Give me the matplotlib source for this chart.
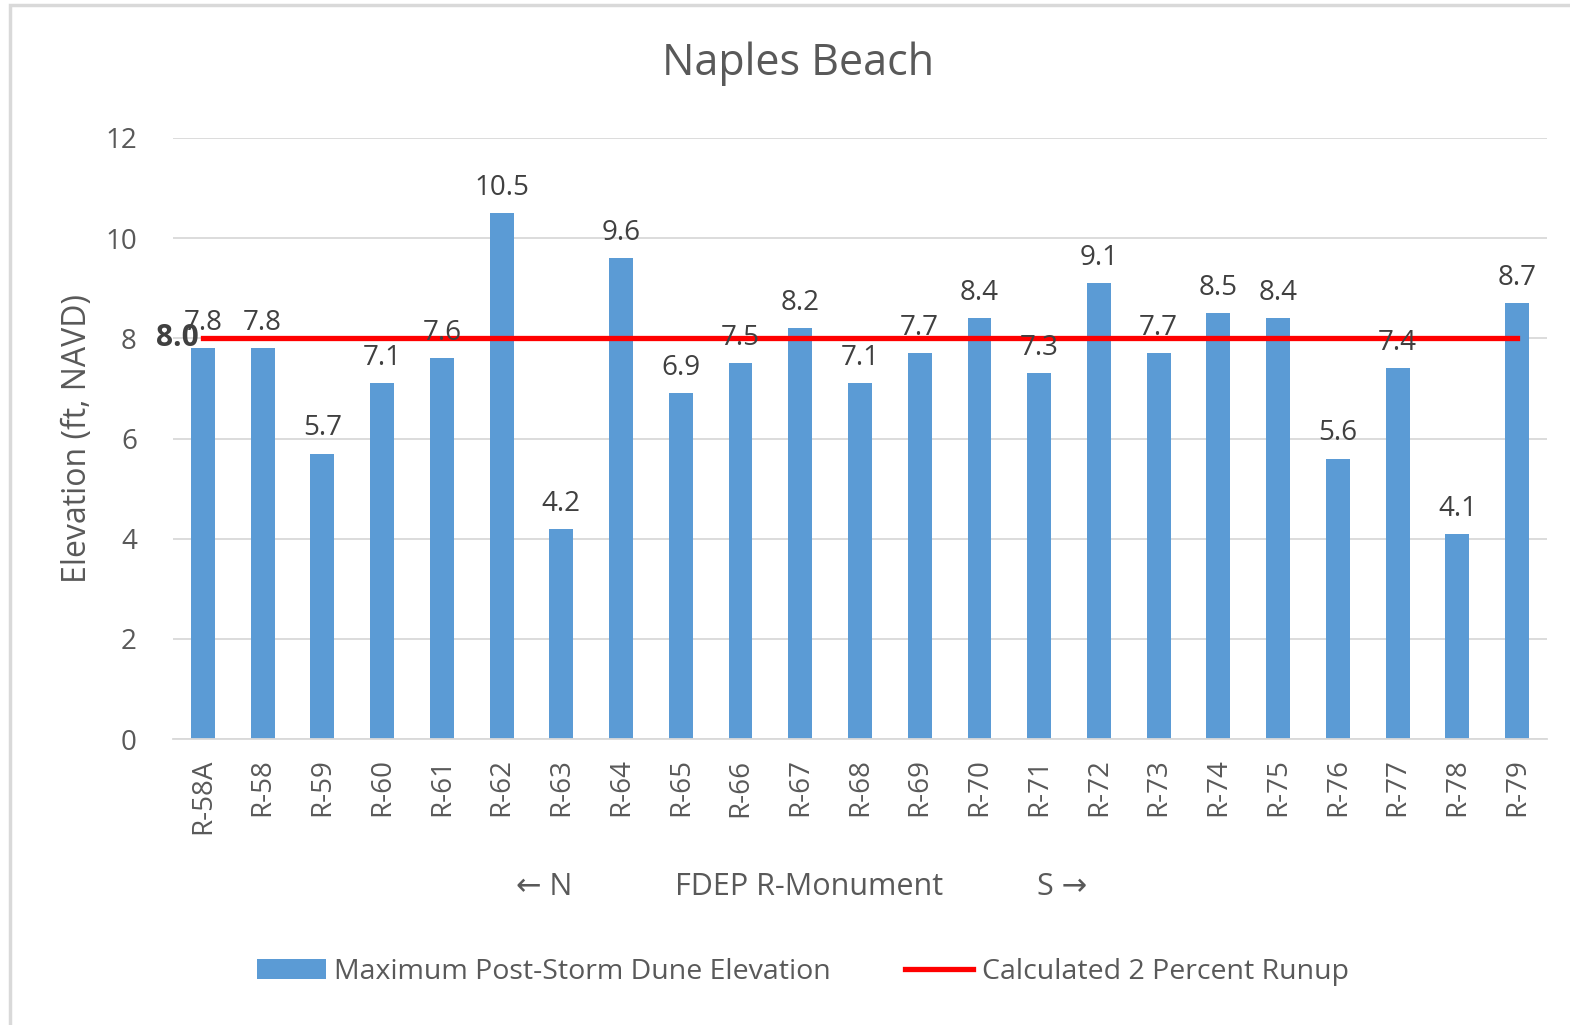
import matplotlib.pyplot as plt
from matplotlib.patches import Rectangle

monuments = ["R-58A", "R-58", "R-59", "R-60", "R-61", "R-62", "R-63", "R-64",
             "R-65", "R-66", "R-67", "R-68", "R-69", "R-70", "R-71", "R-72",
             "R-73", "R-74", "R-75", "R-76", "R-77", "R-78", "R-79"]
dune_elev = [7.8, 7.8, 5.7, 7.1, 7.6, 10.5, 4.2, 9.6, 6.9, 7.5, 8.2, 7.1,
             7.7, 8.4, 7.3, 9.1, 7.7, 8.5, 8.4, 5.6, 7.4, 4.1, 8.7]
runup = 8.0

BLUE = "#5B9BD5"
RED = "#FF0000"
GRID = "#D9D9D9"
TXT = "#595959"

plt.rcParams["font.family"] = ["Open Sans", "DejaVu Sans"]

fig = plt.figure(figsize=(15.7, 10.25), dpi=100)
ax = fig.add_axes([173 / 1570, 1 - 739 / 1025, (1547 - 173) / 1570, (739 - 138) / 1025])

# chart border (cut off at right/bottom like the screenshot)
fig.patches.append(Rectangle((10 / 1570, -0.1), 1.2, 1 - 5 / 1025 + 0.1,
                             transform=fig.transFigure, fill=False,
                             edgecolor="#D9D9D9", linewidth=2.5))

x = list(range(len(monuments)))
bars = ax.bar(x, dune_elev, width=0.4, color=BLUE, zorder=2,
              label="Maximum Post-Storm Dune Elevation")
line, = ax.plot([x[0], x[-1]], [runup, runup], color=RED, linewidth=3.8,
                zorder=3, label="Calculated 2 Percent Runup")

for xi, v in zip(x, dune_elev):
    ax.annotate(f"{v:.1f}", (xi, v), xytext=(0, 8), textcoords="offset points",
                ha="center", va="bottom", fontsize=20, color="#404040", zorder=4)

ax.annotate(f"{runup:.1f}", (x[0], runup), xytext=(-3, 0), textcoords="offset points",
            ha="right", va="center", fontsize=21.5, fontweight="bold", color="#404040")

ax.set_xlim(-0.5, len(monuments) - 0.5)
ax.set_ylim(0, 12)
ax.set_yticks(range(0, 13, 2))
ax.set_xticks(x)
ax.set_xticklabels(monuments, rotation=90)
ax.tick_params(axis="both", length=0, labelsize=20, labelcolor=TXT)
ax.tick_params(axis="y", pad=26)
ax.tick_params(axis="x", pad=14)
ax.grid(axis="y", color=GRID, linewidth=1.3, zorder=0)
for s in ["top", "right", "left"]:
    ax.spines[s].set_visible(False)
ax.spines["bottom"].set_color(GRID)
ax.spines["bottom"].set_linewidth(1.3)

fig.text(798 / 1570, 1 - 64 / 1025, "Naples Beach", ha="center", va="center",
         fontsize=31, color=TXT)
ax.set_ylabel("Elevation (ft, NAVD)", fontsize=23, color=TXT, labelpad=8)
fig.text(544 / 1570, 1 - 887 / 1025, "\u2190 N", ha="center", va="center",
         fontsize=22, color=TXT)
fig.text(809 / 1570, 1 - 887 / 1025, "FDEP R-Monument", ha="center", va="center",
         fontsize=22, color=TXT)
fig.text(1062 / 1570, 1 - 887 / 1025, "S \u2192", ha="center", va="center",
         fontsize=22, color=TXT)

fig.legend(handles=[bars, line], loc="center", bbox_to_anchor=(803 / 1570, 1 - 972 / 1025),
           ncol=2, frameon=False, fontsize=20.5, labelcolor=TXT, handlelength=2.4,
           handleheight=0.7, handletextpad=0.3, columnspacing=2.6)

fig.savefig("out.png", dpi=100, facecolor="white")
